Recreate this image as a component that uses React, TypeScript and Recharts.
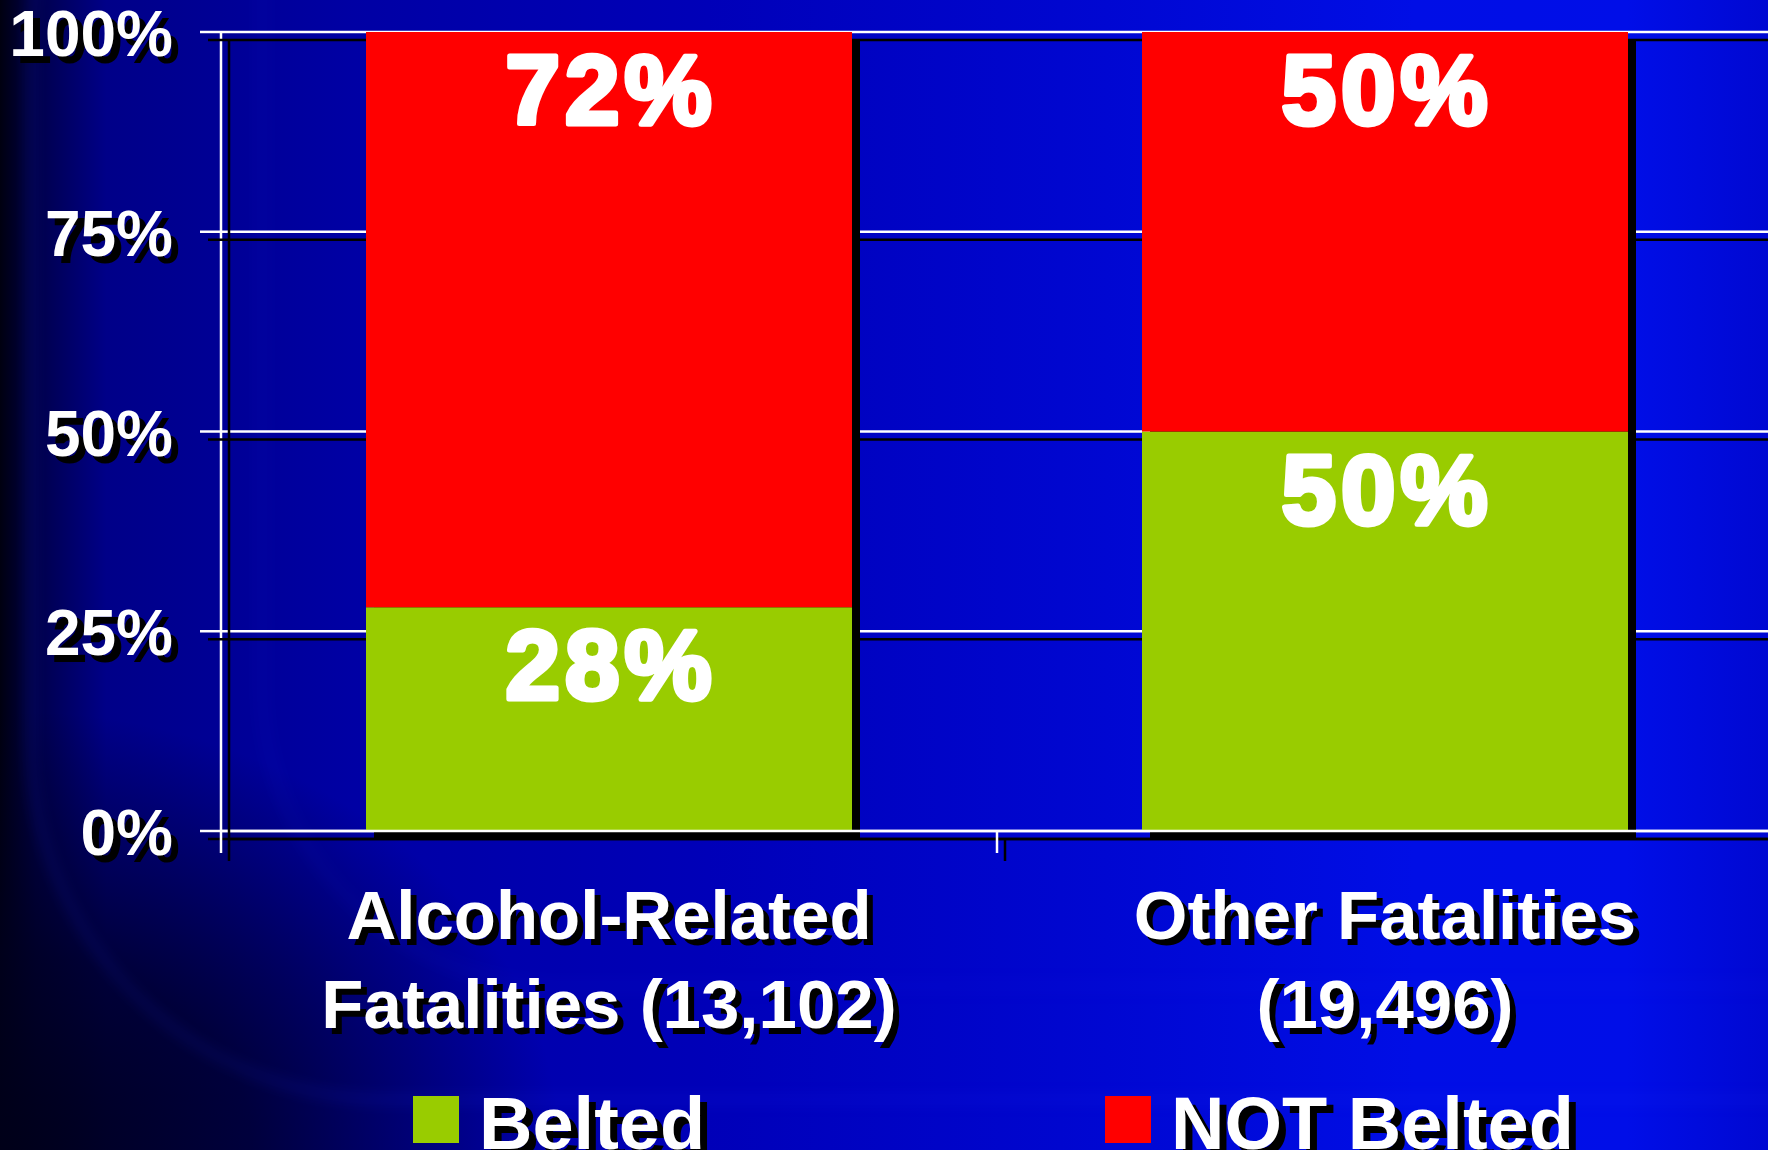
import React from 'react';
import { ComposedChart, Bar, XAxis, YAxis, CartesianGrid, Legend, LabelList } from 'recharts';

const categories = ['Alcohol-Related Fatalities (13,102)', 'Other Fatalities (19,496)'];
const labelLine1 = ['Alcohol-Related', 'Other Fatalities'];
const labelLine2 = ['Fatalities (13,102)', '(19,496)'];
const beltedValues = [28, 50];
const notBeltedValues = [72, 50];
const yTicks = [0, 25, 50, 75, 100];
const edgeTicks = [0, 1, 2];
const seriesNames = ['Belted', 'NOT Belted'];
const seriesColors = ['#99cc00', '#ff0000'];

const data = categories.map((c, i) => ({
  name: c,
  slot: i + 0.5,
  belted: beltedValues[i],
  notBelted: notBeltedValues[i],
  total: beltedValues[i] + notBeltedValues[i],
}));

const FONT = '"Liberation Sans", Arial, Helvetica, sans-serif';

const YTick = (props: any) => {
  const { x, y, payload } = props;
  const t = `${payload.value}%`;
  const st = { fontFamily: FONT, fontWeight: 700, fontSize: 64 } as React.CSSProperties;
  return (
    <g>
      <text x={x + 7} y={y + 31} textAnchor="end" fill="#000" style={st}>{t}</text>
      <text x={x} y={y + 24} textAnchor="end" fill="#fff" style={st}>{t}</text>
    </g>
  );
};

const XTick = (props: any) => {
  const { x, y, payload } = props;
  const i = categories.indexOf(payload.value);
  const lines = [labelLine1[i], labelLine2[i]];
  const st = { fontFamily: FONT, fontWeight: 700, fontSize: 69 } as React.CSSProperties;
  const offs = [107, 196];
  return (
    <g>
      {lines.map((l, k) => (
        <g key={k}>
          <text x={x + 6} y={y + offs[k] + 6} textAnchor="middle" fill="#000" style={st}>{l}</text>
          <text x={x} y={y + offs[k]} textAnchor="middle" fill="#fff" style={st}>{l}</text>
        </g>
      ))}
    </g>
  );
};

const EdgeTick = (props: any) => {
  const { x, y } = props;
  return (
    <g>
      <line x1={x + 8} y1={y + 8} x2={x + 8} y2={y + 30} stroke="#000" strokeWidth={2.5} />
      <line x1={x} y1={y} x2={x} y2={y + 22} stroke="#fff" strokeWidth={2.5} />
    </g>
  );
};

const ShadowShape = (p: any) => (
  <rect x={p.x + 8} y={p.y + 8} width={p.width} height={p.height} fill="#000" />
);

const ValueLabel = (p: any) => {
  const { x, y, width, value } = p;
  return (
    <text
      x={x + width / 2 + 2}
      y={y + 92}
      textAnchor="middle"
      fill="#fff"
      stroke="#fff"
      strokeWidth={5}
      strokeLinejoin="round"
      style={{ fontFamily: FONT, fontWeight: 900, fontSize: 98, letterSpacing: 5 }}
    >
      {`${value}%`}
    </text>
  );
};

const legendX = [413, 1105];

const LegendContent = (props: any) => {
  const items = (props.payload || []).filter((e: any) => e.dataKey === 'belted' || e.dataKey === 'notBelted');
  const st = { fontFamily: FONT, fontWeight: 700, fontSize: 74 } as React.CSSProperties;
  return (
    <svg width={1768} height={62} style={{ display: 'block', overflow: 'visible' }}>
      {items.map((e: any, i: number) => (
        <g key={i}>
          <rect x={legendX[i]} y={6} width={46} height={47} fill={e.color} />
          <text x={legendX[i] + 73} y={66} fill="#000" style={st}>{e.value}</text>
          <text x={legendX[i] + 66} y={59} fill="#fff" style={st}>{e.value}</text>
        </g>
      ))}
    </svg>
  );
};

const gridLine = (p: any) => (
  <line key={p.key} x1={p.x1} y1={p.y1} x2={p.x2} y2={p.y2} stroke="#ffffff" strokeWidth={2.5} />
);

export default function App() {
  return (
    <div
      style={{
        position: 'absolute',
        left: 0,
        top: 0,
        width: 1768,
        height: 1150,
        overflow: 'hidden',
        background:
          'radial-gradient(ellipse 560px 440px at 0% 100%, rgba(0,0,25,0.97) 0%, rgba(0,0,30,0.75) 45%, rgba(0,0,40,0) 100%),' +
          'linear-gradient(90deg, #000010 0%, #00004a 2%, #000088 6%, #0000a4 20%, #0000b8 40%, #0006cf 60%, #000ee6 80%, #000ee8 92%, #0008d2 100%)',
      }}
    >
      <svg width={0} height={0} style={{ position: 'absolute' }}>
        <defs>
          <filter id="dropSh" filterUnits="userSpaceOnUse" x={-50} y={-50} width={2000} height={1300}>
            <feOffset in="SourceAlpha" dx={8} dy={8} result="o" />
            <feMerge>
              <feMergeNode in="o" />
              <feMergeNode in="SourceGraphic" />
            </feMerge>
          </filter>
        </defs>
      </svg>
      <style>{`.recharts-cartesian-grid, .recharts-cartesian-axis-line, .recharts-cartesian-axis-tick-line { filter: url(#dropSh); }`}</style>
      <div
        style={{
          position: 'absolute',
          left: 28,
          top: -320,
          width: 2400,
          height: 1412,
          borderRadius: 360,
          border: '5px solid rgba(30,50,255,0.22)',
          filter: 'blur(7px)',
        }}
      />
      <div
        style={{
          position: 'absolute',
          left: 260,
          top: -400,
          width: 2400,
          height: 1380,
          borderRadius: 300,
          border: '4px solid rgba(30,50,255,0.18)',
          filter: 'blur(8px)',
        }}
      />
      <ComposedChart
        width={1776}
        height={1150}
        data={data}
        margin={{ top: 32, right: 3, bottom: 0, left: 0 }}
        style={{ position: 'relative' }}
      >
        <CartesianGrid xAxisId="main" vertical={false} horizontal={gridLine} stroke="#fff" />
        <XAxis
          xAxisId="edges"
          dataKey="slot"
          type="number"
          scale="linear"
          domain={[0, 2]}
          ticks={edgeTicks}
          height={1}
          tick={<EdgeTick />}
          tickSize={0}
          tickMargin={0}
          minTickGap={0}
          axisLine={{ stroke: '#fff', strokeWidth: 2.5 }}
          tickLine={false}
          interval={0}
          allowDataOverflow
        />
        <XAxis
          xAxisId="main"
          dataKey="name"
          type="category"
          height={318}
          tickSize={0}
          tickMargin={0}
          axisLine={false}
          tickLine={false}
          tick={<XTick />}
          interval={0}
        />
        <XAxis xAxisId="shadow" dataKey="name" type="category" hide />
        <YAxis
          type="number"
          domain={[0, 100]}
          ticks={yTicks}
          width={221}
          tickSize={21}
          tickMargin={27}
          axisLine={{ stroke: '#fff', strokeWidth: 2.5 }}
          tickLine={{ stroke: '#fff', strokeWidth: 2.5 }}
          tick={<YTick />}
          interval={0}
        />
        <Bar
          xAxisId="shadow"
          dataKey="total"
          barSize={486}
          shape={<ShadowShape />}
          legendType="none"
          isAnimationActive={false}
        />
        <Bar
          xAxisId="main"
          dataKey="belted"
          name={seriesNames[0]}
          stackId="s"
          fill={seriesColors[0]}
          barSize={486}
          isAnimationActive={false}
        >
          <LabelList dataKey="belted" content={<ValueLabel />} />
        </Bar>
        <Bar
          xAxisId="main"
          dataKey="notBelted"
          name={seriesNames[1]}
          stackId="s"
          fill={seriesColors[1]}
          barSize={486}
          isAnimationActive={false}
        >
          <LabelList dataKey="notBelted" content={<ValueLabel />} />
        </Bar>
        <Legend
          layout="horizontal"
          verticalAlign="middle"
          align="center"
          content={<LegendContent />}
          wrapperStyle={{ top: 1090, left: 0, width: 1768, height: 62 }}
        />
      </ComposedChart>
    </div>
  );
}
